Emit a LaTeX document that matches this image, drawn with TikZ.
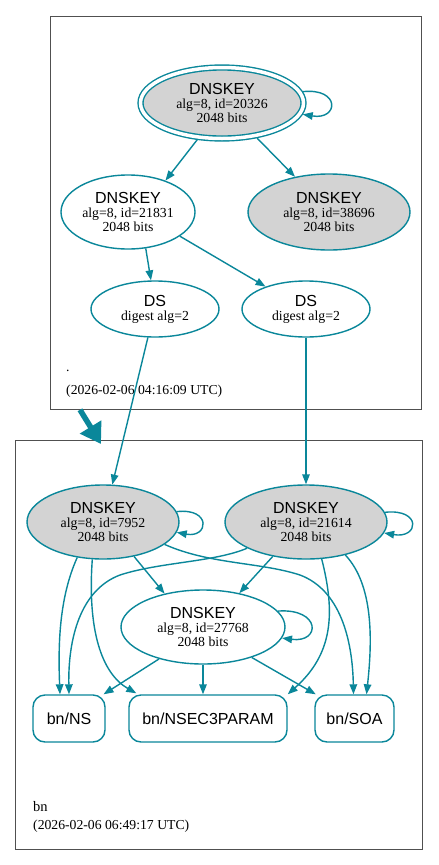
\documentclass[tikz,border=0pt]{standalone}
\usepackage{fontspec}
\setmainfont{Liberation Serif}
\setsansfont{Liberation Sans}
\usetikzlibrary{arrows.meta,shapes.geometric,calc}
\definecolor{sec}{HTML}{0A879A}
\definecolor{keyfill}{HTML}{D3D3D3}
\definecolor{frame}{HTML}{505050}
\newcommand{\keylabel}[1]{{\sffamily\fontsize{16}{13.8}\selectfont DNSKEY}\\alg=8, id=#1\\2048 bits}
\newcommand{\dslabel}{{\sffamily\fontsize{16}{13.8}\selectfont DS}\\digest alg=2}
\begin{document}
\begin{tikzpicture}[x=1pt,y=-1pt,
  key/.style={ellipse, draw=sec, line width=1.4pt, align=center, inner sep=0pt,
    font=\fontsize{13.8}{13.8}\selectfont},
  gray/.style={fill=keyfill},
  rr/.style={rectangle, rounded corners=12pt, draw=sec, line width=1.4pt,
    font=\sffamily\fontsize{16}{18}\selectfont, inner sep=0pt, minimum height=47pt},
  e/.style={draw=sec, line width=1.4pt, -{Triangle[length=10pt,width=7.5pt]}},
  cluster/.style={draw=frame, line width=0.8pt, inner sep=0pt, anchor=north west},
  stamp/.style={font=\fontsize{13.7}{15}\selectfont, anchor=base west, inner sep=0pt}]
\useasboundingbox[fill=white] (0,0) rectangle (439,865);

% clusters
\node[cluster, minimum width=371pt, minimum height=393pt] (top) at (50,16) {};
\node[cluster, minimum width=407pt, minimum height=409pt] (bot) at (15,440) {};

% top cluster nodes
\node[key, gray, double=white, double distance=3.5pt, outer sep=3pt,
  minimum width=163pt, minimum height=71pt] (ksk) at (222,103) {\keylabel{20326}};
\node[key, minimum width=134pt, minimum height=74pt] (z1) at (128,212) {\keylabel{21831}};
\node[key, gray, minimum width=162pt, minimum height=76pt] (z2) at (329,212) {\keylabel{38696}};
\node[key, minimum width=128pt, minimum height=56pt] (dsl) at (155,309) {\dslabel};
\node[key, minimum width=128pt, minimum height=56pt] (dsr) at (306,309) {\dslabel};
\node[stamp] (dot) at (66,371) {.};
\node[stamp] (ts1) at (66,394) {(2026-02-06 04:16:09 UTC)};

% bottom cluster nodes
\node[key, gray, minimum width=152pt, minimum height=74pt] (b1) at (103,522) {\keylabel{7952}};
\node[key, gray, minimum width=162pt, minimum height=74pt] (b2) at (306,522) {\keylabel{21614}};
\node[key, minimum width=164pt, minimum height=74pt] (c) at (203,627) {\keylabel{27768}};
\node[rr, minimum width=72pt] (ns) at (69,718.5) {bn/NS};
\node[rr, minimum width=158pt] (p) at (208,718.5) {bn/NSEC3PARAM};
\node[rr, minimum width=79pt] (soa) at (354.5,718.5) {bn/SOA};
\node[stamp, font=\fontsize{14.5}{16}\selectfont] (bn) at (33,811) {bn};
\node[stamp] (ts2) at (33,829) {(2026-02-06 06:49:17 UTC)};

% top edges
\draw[e] (ksk.236) -- (z1.40);
\draw[e] (ksk.315) -- (z2.134);
\draw[e] (z1.296) -- (dsl.98);
\draw[e] (z1.335) -- (dsr.151);
\draw[e] (ksk.8) .. controls +(38,-4) and +(36,6) .. (ksk.-8);

% inter-cluster
\draw[e] (dsl.256) -- (b1.76);
\draw[e] (dsr.south) -- (b2.north);
\draw[sec, line width=5.5pt, -{Triangle[length=20pt,width=24pt]}]
  ($(top.south west)+(30,0)$) -- ($(bot.north west)+(86,4)$);

% bottom edges
\draw[e] (b1.8) .. controls +(35,-4) and +(32,6) .. (b1.-8);
\draw[e] (b2.7) .. controls +(37,-4) and +(35,6) .. (b2.-8);
\draw[e] (c.12) .. controls +(43,-3) and +(39,5) .. (c.-8);
\draw[e] (b1.312) -- (c.139);
\draw[e] (b2.226) -- (c.43);
\draw[e] (c.216) -- (ns.35);
\draw[e] (c.south) -- (c.south |- p.north);
\draw[e] (c.328) -- (soa.148);
\draw[e] (b1.234) .. controls +(-18,40) and +(-2,-50) .. ($(ns.north)+(-9,0)$);
\draw[e] (b2.204) .. controls +(-33,14) and +(40,-13) .. (120,575)
  .. controls +(-40,15) and +(-1,-55) .. (ns.north);
\draw[e] (b1.340) .. controls +(45,20) and +(-40,-13) .. (300,575)
  .. controls +(40,15) and +(-1,-55) .. ($(soa.north)+(-1,0)$);
\draw[e] (b2.320) .. controls +(28,30) and +(6,-55) .. ($(soa.north)+(12,0)$);
\draw[e] (b1.254) .. controls +(-5,70) and +(-35,-20) .. ($(p.north west)+(8,-1)$);
\draw[e] (b2.293) .. controls +(14,55) and +(45,-40) .. (p.north east);
\end{tikzpicture}
\end{document}
